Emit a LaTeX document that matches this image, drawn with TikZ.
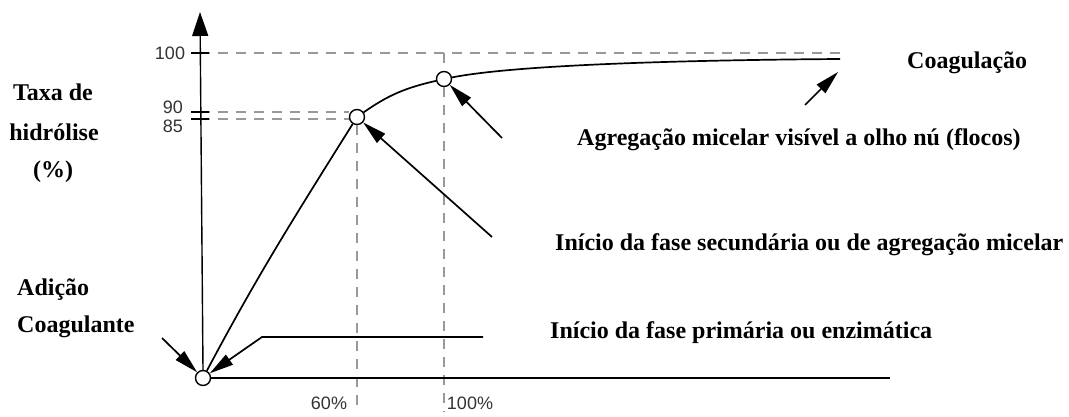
\documentclass[tikz,border=0pt]{standalone}
\usepackage{fontspec}
\setmainfont{Liberation Serif}
\newfontfamily\axisfont{Liberation Sans}
\usetikzlibrary{arrows.meta}

\begin{document}
\begin{tikzpicture}[x=1pt,y=1pt,
    lbl/.style={font=\fontsize{24}{28}\selectfont\bfseries, inner sep=0pt},
    axlbl/.style={font=\axisfont\fontsize{18}{20}\selectfont, text=black!80, inner sep=0pt},
    dot/.style={circle, draw, fill=white, minimum size=15pt, inner sep=0pt, line width=1.4pt},
    guide/.style={gray!80, line width=1.8pt, dash pattern=on 10pt off 8pt},
    pointer/.style={line width=1.7pt, -{Triangle[length=24pt,width=12pt]}}]
            \useasboundingbox (0,0) rectangle (1069,416);
            % Nodes
            \node[dot] (o) at (203,38) {};
            \node[dot] (c1) at (357,299) {};
            \node[dot] (c2) at (444,337) {};
            \coordinate (ytop) at (200,404);
            \coordinate (xend) at (890,38);
            \coordinate (t100) at (200,363);
            \coordinate (t90) at (200,304);
            \coordinate (t85) at (200,297);
            \coordinate (g100) at (840,363);
            \coordinate (cend) at (840,357);
            \coordinate (p60) at (357,4);
            \coordinate (p100) at (444,4);
            \coordinate (aAd) at (162,78);
            \coordinate (aPr) at (483,79);
            \coordinate (aPrk) at (262,79);
            \coordinate (aSe) at (492,179);
            \coordinate (aAg) at (502,278);
            \coordinate (aCo) at (805,311);
            \coordinate (aCoTip) at (838,344);

            \node[axlbl] (l100) at (170,363) {100};
            \node[axlbl] (l90) at (173,309) {90};
            \node[axlbl] (l85) at (173,290) {85};
            \node[axlbl] (l60) at (329,13) {60\%};
            \node[axlbl] (l100p) at (470,13) {100\%};

            \node[lbl] (taxa) at (53,324) {Taxa de};
            \node[lbl] (hidro) at (54,284) {hidrólise};
            \node[lbl] (pct) at (53,244) {(\%)};
            \node[lbl, anchor=west] (adic) at (17,126) {Adição};
            \node[lbl, anchor=west] (coag) at (17,89) {Coagulante};
            \node[lbl, anchor=west] (coagu) at (907,353) {Coagulação};
            \node[lbl, anchor=west] (agreg) at (577,276) {Agregação micelar visível a olho nú (flocos)};
            \node[lbl, anchor=west] (sec) at (555,171) {Início da fase secundária ou de agregação micelar};
            \node[lbl, anchor=west] (prim) at (550,83) {Início da fase primária ou enzimática};

            % Guides
            \draw[guide] (t100) -- (g100);
            \draw[guide] (t90) -- (t90 -| c1.west);
            \draw[guide] (t85) -- (t85 -| c1.west);
            \draw[guide] (t100 -| c2) -- (c2.north);
            \draw[guide] (c2.south) -- (p100);
            \draw[guide] (c1.south) -- (p60);

            % Axes
            \draw[line width=1.4pt, -{Triangle[length=24pt,width=16pt]}] (o.north) -- (ytop);
            \draw[line width=1.4pt] (o.east) -- (xend);
            \foreach \t in {t100,t90,t85}
                \draw[line width=1.4pt] ([xshift=-9pt]\t) -- ([xshift=9pt]\t);

            % Edges
            \draw[line width=1.7pt] (o) to[out=62,in=238] (c1);
            \draw[line width=1.7pt] (c1) to[out=35,in=193] (c2);
            \draw[line width=1.7pt] (c2) .. controls (520,352) and (700,356) .. (cend);
            \draw[pointer] (aAd) -- (o);
            \draw[pointer] (aPr) -- (aPrk) -- (o);
            \draw[pointer] (aSe) -- (c1);
            \draw[pointer] (aAg) -- (c2);
            \draw[pointer] (aCo) -- (aCoTip);
        \end{tikzpicture}
\end{document}
